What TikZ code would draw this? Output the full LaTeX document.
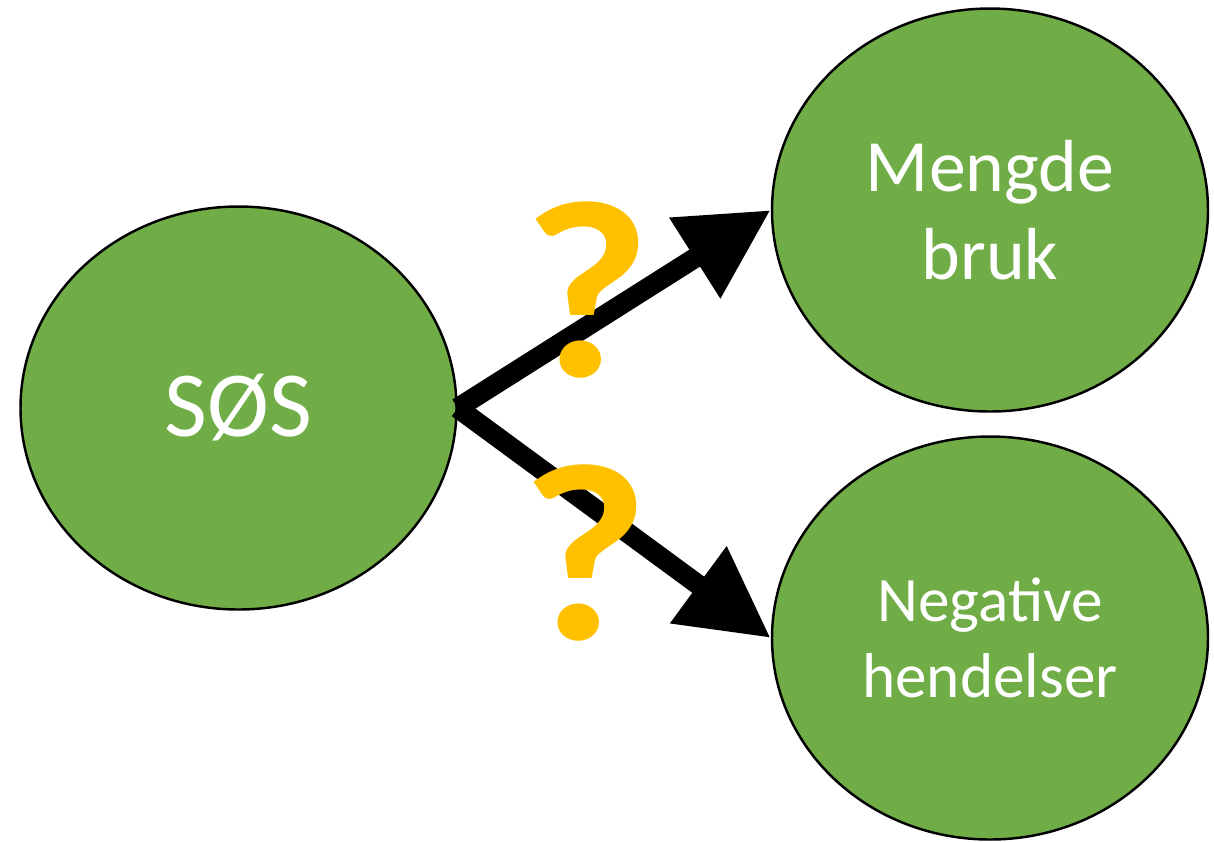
\documentclass[tikz,border=0pt]{standalone}
\usepackage{fontspec}
\setmainfont{Carlito}
\usetikzlibrary{shapes.geometric,arrows.meta}
\definecolor{gronn}{HTML}{70AD47}
\definecolor{gul}{HTML}{FFC000}

\begin{document}
\begin{tikzpicture}[x=0.1mm, y=0.1mm]
\tikzstyle{every node}+=[inner sep=0pt]
\tikzstyle{boble}=[ellipse, draw=black, line width=0.7pt, fill=gronn, text=white, align=center, minimum width=4.36cm, minimum height=4.03cm]
\tikzstyle{pil}=[line width=5.7pt, -{Triangle[length=0.9cm,width=0.9cm]}]
\tikzstyle{spm}=[text=gul, font=\fontsize{72}{72}\selectfont\bfseries]
\useasboundingbox (0,0) rectangle (1214,-841);
\node [boble, font=\fontsize{26.5}{32}\selectfont] (sos) at (238.5,-408) {SØS};
\node [boble, font=\fontsize{21}{25}\selectfont] (mengde) at (990,-210) {Mengde\\bruk};
\node [boble, font=\fontsize{18}{21.6}\selectfont] (negativ) at (990,-638) {Negative\\hendelser};
%\draw [black] (sos.east) -- (negativ.west);
\draw [pil] (sos.east) -- (mengde.west);
\draw [pil] (sos.east) -- (negativ.west);
\node [spm, xscale=1.1] (spm1) at (587,-290) {?};
\node [spm, xscale=1.1] (spm2) at (585,-553) {?};
\end{tikzpicture}
\end{document}
